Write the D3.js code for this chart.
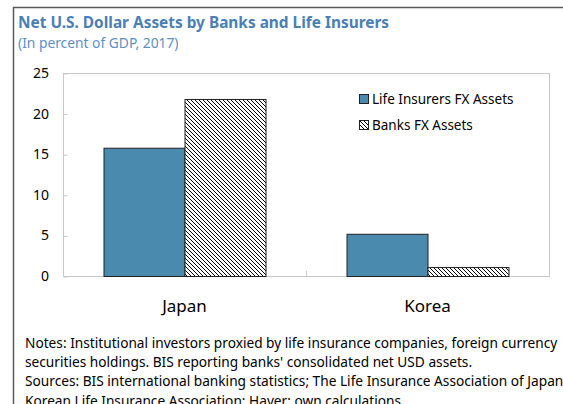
<!DOCTYPE html>
<html lang="en">
  <head>
    <meta charset="utf-8">
    <title>Net U.S. Dollar Assets by Banks and Life Insurers</title>
    <script src="https://d3js.org/d3.v7.min.js"></script>
    <style>
      body { margin: 0; background: #fff; }
      svg text { font-family: "Noto Sans", "Open Sans", sans-serif; }
    </style>
  </head>
  <body>
    <div id="chart"></div>
    <script>
      // values (percent of GDP)
      var categories = ["Japan", "Korea"];
      var seriesNames = ["Life Insurers FX Assets", "Banks FX Assets"];
      var lifeInsurers = [15.8, 5.2];
      var banks = [21.8, 1.1];
      var yTicks = [0, 5, 10, 15, 20, 25];
      var notes = [
        "Notes: Institutional investors proxied by life insurance companies, foreign currency",
        "securities holdings. BIS reporting banks' consolidated net USD assets.",
        "Sources: BIS international banking statistics; The Life Insurance Association of Japan;",
        "Korean Life Insurance Association; Haver; own calculations."
      ];

      var w = 563;
      var h = 404;
      var plotL = 63, plotR = 549, plotT = 73, plotB = 276;
      var blue = "#4a8aae";

      var svg = d3.select("#chart")
                  .append("svg")
                  .attr("width", w)
                  .attr("height", h);

      var defs = svg.append("defs");
      var pat = defs.append("pattern")
                    .attr("id", "hatch")
                    .attr("patternUnits", "userSpaceOnUse")
                    .attr("width", 4)
                    .attr("height", 4);
      pat.append("rect").attr("width", 4).attr("height", 4).attr("fill", "#fff");
      pat.append("path")
         .attr("d", "M-1,-1L5,5M3,-1L5,1M-1,3L1,5")
         .attr("stroke", "#000")
         .attr("stroke-width", 1);

      // outer frame (left and top only)
      svg.append("path")
         .attr("d", "M13.5," + h + "V7.5H" + w)
         .attr("fill", "none")
         .attr("stroke", "#595959")
         .attr("stroke-width", 1.5);

      svg.append("text")
         .attr("x", 18).attr("y", 28)
         .attr("font-size", 15.4)
         .attr("font-weight", "bold")
         .attr("fill", "#4a7fb5")
         .text("Net U.S. Dollar Assets by Banks and Life Insurers");

      svg.append("text")
         .attr("x", 18).attr("y", 48)
         .attr("font-size", 13.8)
         .attr("fill", "#5b8fc6")
         .text("(In percent of GDP, 2017)");

      var y = d3.scaleLinear().domain([0, 25]).range([plotB, plotT]);
      var x0 = d3.scaleBand().domain(categories).range([plotL, plotR]).padding(0);
      var x1 = d3.scaleBand().domain(seriesNames)
                 .range([0, x0.bandwidth()])
                 .paddingInner(0).paddingOuter(0.5);

      // plot box
      svg.append("rect")
         .attr("x", plotL + 0.5).attr("y", plotT + 0.5)
         .attr("width", plotR - plotL).attr("height", plotB - plotT)
         .attr("fill", "none")
         .attr("stroke", "#c8c8c8");

      // y axis with inward ticks
      var yAxis = svg.append("g")
         .attr("transform", "translate(" + (plotL + 0.5) + ",0.5)")
         .call(d3.axisRight(y).tickValues(yTicks).tickSize(4).tickFormat(""));
      yAxis.select(".domain").remove();
      yAxis.selectAll("line").attr("stroke", "#c8c8c8");

      svg.selectAll(".ylab")
         .data(yTicks)
         .enter()
         .append("text")
         .attr("class", "ylab")
         .attr("x", 49)
         .attr("y", function(d) { return y(d); })
         .attr("dy", "0.36em")
         .attr("text-anchor", "end")
         .attr("font-size", 14)
         .attr("fill", "#000")
         .text(function(d) { return d; });

      // category boundary ticks
      svg.selectAll(".ctick")
         .data(categories.slice(1))
         .enter()
         .append("line")
         .attr("class", "ctick")
         .attr("x1", function(d) { return x0(d) + 0.5; })
         .attr("x2", function(d) { return x0(d) + 0.5; })
         .attr("y1", plotB)
         .attr("y2", plotB - 5)
         .attr("stroke", "#c8c8c8");

      var rows = categories.map(function(c, i) {
        return [
          { cat: c, name: seriesNames[0], value: lifeInsurers[i] },
          { cat: c, name: seriesNames[1], value: banks[i] }
        ];
      });
      var fills = [blue, "url(#hatch)"];

      svg.selectAll(".group")
         .data(rows)
         .enter()
         .append("g")
         .attr("class", "group")
         .attr("transform", function(d) { return "translate(" + x0(d[0].cat) + ",0)"; })
         .selectAll("rect")
         .data(function(d) { return d; })
         .enter()
         .append("rect")
         .attr("x", function(d) { return x1(d.name) + 0.5; })
         .attr("y", function(d) { return y(d.value) + 0.5; })
         .attr("width", x1.bandwidth())
         .attr("height", function(d) { return plotB - y(d.value); })
         .attr("fill", function(d, i) { return fills[i]; })
         .attr("stroke", "#222")
         .attr("stroke-width", 1);

      svg.selectAll(".xlab")
         .data(categories)
         .enter()
         .append("text")
         .attr("class", "xlab")
         .attr("x", function(d) { return x0(d) + x0.bandwidth() / 2; })
         .attr("y", 312)
         .attr("text-anchor", "middle")
         .attr("font-size", 17)
         .attr("fill", "#000")
         .text(function(d) { return d; });

      // legend
      var legend = svg.selectAll(".legend")
         .data(seriesNames)
         .enter()
         .append("g")
         .attr("class", "legend")
         .attr("transform", function(d, i) { return "translate(359," + (94 + i * 26) + ")"; });
      legend.append("rect")
         .attr("x", 0.5).attr("y", 0.5)
         .attr("width", 9).attr("height", 9)
         .attr("fill", function(d, i) { return fills[i]; })
         .attr("stroke", "#222");
      legend.append("text")
         .attr("x", 13).attr("y", 10)
         .attr("font-size", 13.5)
         .attr("fill", "#000")
         .text(function(d) { return d; });

      svg.selectAll(".note")
         .data(notes)
         .enter()
         .append("text")
         .attr("class", "note")
         .attr("x", 25)
         .attr("y", function(d, i) { return 348 + i * 19.2; })
         .attr("font-size", 13.7)
         .attr("fill", "#000")
         .text(function(d) { return d; });
    </script>
  </body>
</html>
